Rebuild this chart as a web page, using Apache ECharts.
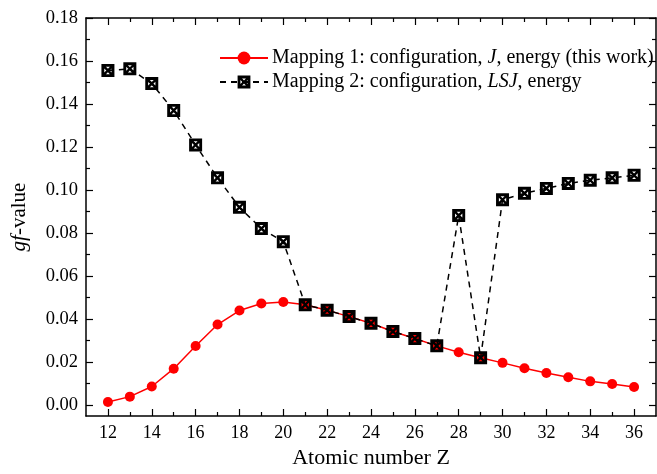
<!DOCTYPE html>
<html>
<head>
<meta charset="utf-8">
<script src="https://cdn.jsdelivr.net/npm/echarts@6/dist/echarts.min.js"></script>
<style>
html,body{margin:0;padding:0;background:#fff;}
#chart{width:657px;height:474px;}
</style>
</head>
<body>
<div id="chart"></div>
<script>
// ---- data ----
const atomicNumbers = [12,13,14,15,16,17,18,19,20,21,22,23,24,25,26,27,28,29,30,31,32,33,34,35,36];
const mapping1 = [0.0015,0.004,0.0087,0.017,0.0275,0.0375,0.044,0.0473,0.048,0.0467,0.0442,0.0412,0.0381,0.0343,0.031,0.0276,0.0246,0.0221,0.0197,0.0172,0.015,0.013,0.0111,0.0099,0.0085];
const mapping2 = [0.1556,0.1564,0.1495,0.137,0.121,0.1057,0.092,0.0821,0.076,0.0467,0.0442,0.0412,0.0381,0.0343,0.031,0.0276,0.0882,0.0221,0.0955,0.0985,0.1008,0.1031,0.1046,0.1057,0.1069];
const xMajorTicks = [12,14,16,18,20,22,24,26,28,30,32,34,36];
const xMinorTicks = [13,15,17,19,21,23,25,27,29,31,33,35];
const yMajorTicks = [0,0.02,0.04,0.06,0.08,0.10,0.12,0.14,0.16,0.18];
const yMinorTicks = [0.01,0.03,0.05,0.07,0.09,0.11,0.13,0.15,0.17];
const seriesNames = ['Mapping 1: configuration, J, energy (this work)','Mapping 2: configuration, LSJ, energy'];
const legendRich = [
  'Mapping 1: configuration, {i|J}, energy (this work)',
  'Mapping 2: configuration, {i|LSJ}, energy'
];

const FONT = 'Liberation Serif';
const squareX = 'path://M0 0 H100 V100 H0 Z M22 22 V78 H78 V22 Z ' +
  'M22 22 L35 22 L78 65 L78 78 L65 78 L22 35 Z ' +
  'M78 22 L78 35 L35 78 L22 78 L22 65 L65 22 Z';

function xAxisDef(pos, ticks, len, showLine, showLabel, extra) {
  return Object.assign({
    type: 'value', position: pos, min: 11, max: 37, gridIndex: 0,
    axisLine: {show: showLine, onZero: false, lineStyle: {color: '#000', width: 1.5}},
    axisTick: {show: true, inside: true, length: len, customValues: ticks, lineStyle: {color: '#000', width: 1.2}},
    axisLabel: {show: showLabel, customValues: ticks, margin: 8, color: '#000', fontFamily: FONT, fontSize: 18},
    splitLine: {show: false}
  }, extra || {});
}
function yAxisDef(pos, ticks, len, showLine, showLabel, extra) {
  return Object.assign({
    type: 'value', position: pos, min: -0.005, max: 0.18, gridIndex: 0,
    axisLine: {show: showLine, onZero: false, lineStyle: {color: '#000', width: 1.5}},
    axisTick: {show: true, inside: true, length: len, customValues: ticks, lineStyle: {color: '#000', width: 1.2}},
    axisLabel: {show: showLabel, customValues: ticks, margin: 8, color: '#000', fontFamily: FONT, fontSize: 18.5,
      formatter: v => v.toFixed(2)},
    splitLine: {show: false}
  }, extra || {});
}

const chart = echarts.init(document.getElementById('chart'), null, {renderer: 'canvas'});
chart.setOption({
  backgroundColor: '#fff',
  animation: false,
  grid: {left: 86, right: 1, top: 18, bottom: 52, containLabel: false},
  legend: {
    orient: 'vertical', left: 214, top: 43, itemWidth: 48, itemHeight: 16, itemGap: 4,
    data: seriesNames,
    formatter: name => legendRich[seriesNames.indexOf(name)],
    textStyle: {color: '#000', fontFamily: FONT, fontSize: 20, padding: [0, 0, 0, -1],
      rich: {i: {fontStyle: 'italic', fontFamily: FONT, fontSize: 20, color: '#000'}}}
  },
  xAxis: [
    xAxisDef('bottom', xMajorTicks, 7, true, true, {
      name: 'Atomic number Z', nameLocation: 'middle', nameGap: 31,
      nameTextStyle: {color: '#000', fontFamily: FONT, fontSize: 22}
    }),
    xAxisDef('bottom', xMinorTicks, 4, false, false),
    xAxisDef('top', xMajorTicks, 7, true, false),
    xAxisDef('top', xMinorTicks, 4, false, false)
  ],
  yAxis: [
    yAxisDef('left', yMajorTicks, 7, true, true, {
      name: '{i|gf}-value', nameLocation: 'middle', nameGap: 56, nameRotate: 90,
      nameTextStyle: {color: '#000', fontFamily: FONT, fontSize: 21,
        rich: {i: {fontStyle: 'italic', fontFamily: FONT, fontSize: 21, color: '#000'}}}
    }),
    yAxisDef('left', yMinorTicks, 4, false, false),
    yAxisDef('right', yMajorTicks, 7, true, false),
    yAxisDef('right', yMinorTicks, 4, false, false)
  ],
  series: [
    {
      name: seriesNames[0], type: 'line', xAxisIndex: 0, yAxisIndex: 0,
      data: atomicNumbers.map((z, i) => [z, mapping1[i]]),
      symbol: 'circle', symbolSize: 10,
      itemStyle: {color: '#ff0000'},
      lineStyle: {color: '#ff0000', width: 1.5},
      z: 2
    },
    {
      name: seriesNames[1], type: 'line', xAxisIndex: 0, yAxisIndex: 0,
      data: atomicNumbers.map((z, i) => [z, mapping2[i]]),
      symbol: squareX, symbolSize: 13, symbolKeepAspect: true,
      itemStyle: {color: '#000'},
      lineStyle: {color: '#000', width: 1.5, type: [6, 5]},
      z: 3
    }
  ]
});
</script>
</body>
</html>
